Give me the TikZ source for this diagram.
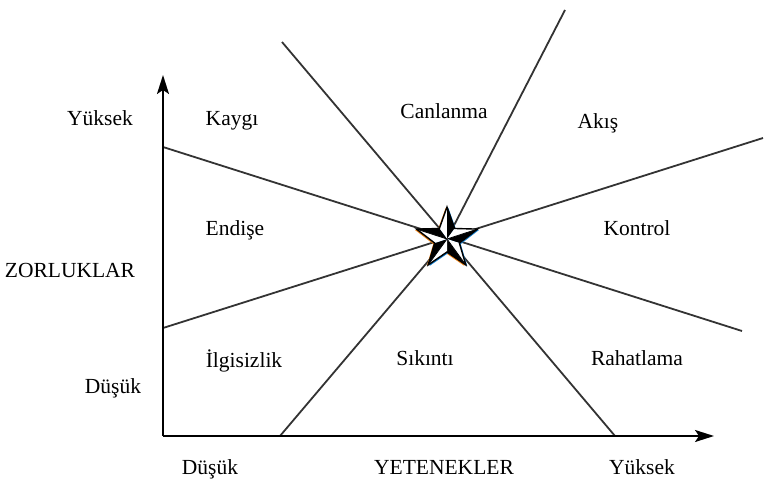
\documentclass[tikz,border=0pt]{standalone}
\usepackage{fontspec}
\setmainfont{Liberation Serif}
\usetikzlibrary{arrows.meta,calc}
\begin{document}
\begin{tikzpicture}[x=1pt,y=-1pt,
  lbl/.style={font=\fontsize{21.5}{25}\selectfont, anchor=base, inner sep=0pt},
  zone/.style={draw=black!80, line width=1.8pt},
  axis/.style={draw=black, line width=1.9pt, -{Stealth[length=19pt,width=12pt,inset=4pt]}}]
\useasboundingbox (0,0) rectangle (764,479);
% coordinates
\coordinate (O) at (163,436);
\coordinate (C) at (447,239);
\coordinate (l1a) at (163,147);
\coordinate (l1b) at (742,331);
\coordinate (l2a) at (163,328);
\coordinate (l2b) at (763,138);
\coordinate (l3a) at (282,42);
\coordinate (l3b) at (615,436);
\coordinate (l4a) at (280,436);
\coordinate (l4b) at (565,10);
\coordinate (ytip) at (163,75);
\coordinate (xtip) at (714,436);
% zone lines
\draw[zone] (l1a) -- (l1b);
\draw[zone] (l2a) -- (l2b);
\draw[zone] (l3a) -- (l3b);
\draw[zone] (l4a) -- (C);
\draw[zone] (C) -- (l4b);
% axes
\draw[axis] (O) -- (ytip);
\draw[axis] (O) -- (xtip);
% star fringes
\foreach \dx/\col in {-1.4/orange!70!brown, 1.4/cyan!60!blue} {
  \fill[\col] ($(C)+(\dx,1)+(-90:32)$)
    \foreach \k in {0,...,4} { -- ($(C)+(\dx,1)+(-90+72*\k:32)$) -- ($(C)+(\dx,1)+(-54+72*\k:13)$) } -- cycle;
}
% star facets
\foreach \k in {0,...,4} {
  \pgfmathsetmacro\a{-90+72*\k}
  \fill[black] (C) -- ($(C)+(\a:32)$) -- ($(C)+(\a+36:13)$) -- cycle;
  \fill[white] (C) -- ($(C)+(\a:32)$) -- ($(C)+(\a-36:13)$) -- cycle;
  \draw[black, line width=0.8pt] (C) -- ($(C)+(\a:32)$);
}
\draw[black, line width=1.4pt, line join=miter] ($(C)+(-90:32)$)
  \foreach \k in {0,...,4} { -- ($(C)+(-90+72*\k:32)$) -- ($(C)+(-54+72*\k:13)$) } -- cycle;
% labels
\node[lbl] (yhigh) at (100,125) {Yüksek};
\node[lbl] (kaygi) at (232,125) {Kaygı};
\node[lbl] (canlanma) at (444,118) {Canlanma};
\node[lbl] (akis) at (598,128) {Akış};
\node[lbl] (endise) at (235,235) {Endişe};
\node[lbl] (kontrol) at (637,235) {Kontrol};
\node[lbl] (zor) at (70,277) {ZORLUKLAR};
\node[lbl] (ilgi) at (244,367) {İlgisizlik};
\node[lbl] (sikinti) at (425,365) {Sıkıntı};
\node[lbl] (rahat) at (637,365) {Rahatlama};
\node[lbl] (ylow) at (113,393) {Düşük};
\node[lbl] (xlow) at (210,474) {Düşük};
\node[lbl] (yet) at (444,474) {YETENEKLER};
\node[lbl] (xhigh) at (642,474) {Yüksek};
\end{tikzpicture}
\end{document}
